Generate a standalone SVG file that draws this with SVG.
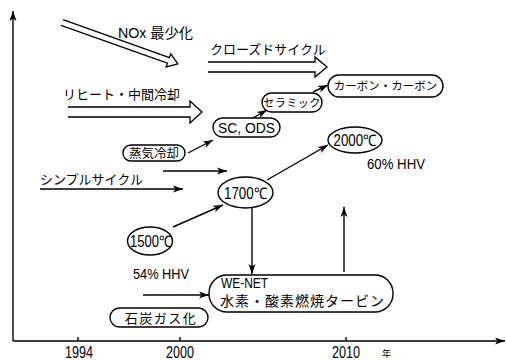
<svg xmlns="http://www.w3.org/2000/svg" width="506" height="360" viewBox="0 0 506 360">
<style>
.bg{fill:#fff}
.ln{stroke:#000;stroke-width:1.4;fill:none}
.arr{stroke:#000;stroke-width:1.4;fill:none;marker-end:url(#ah)}
.hol{stroke:#000;stroke-width:1.3;fill:#fff;stroke-linejoin:miter}
.box{stroke:#000;stroke-width:1.4;fill:#fff}
.jp{font-family:"Noto Sans CJK JP","Noto Sans CJK SC",sans-serif;fill:#000}
.lat{font-family:"Liberation Sans",sans-serif;fill:#000}
.mix{font-family:"Liberation Sans","Noto Sans CJK JP",sans-serif;fill:#000}
.c{text-anchor:middle}
</style>
<defs>
<marker id="ah" markerUnits="userSpaceOnUse" markerWidth="11" markerHeight="8" refX="10" refY="4" orient="auto">
<path d="M0,0.5 L10,4 L0,7.5 L2.5,4 Z" fill="#000"/>
</marker>
</defs>
<rect class="bg" x="0" y="0" width="506" height="360"/>

<g id="axes">
<path class="arr" d="M13,341 V11"/>
<path class="arr" d="M13,341 H505"/>
<path class="ln" d="M78,337 V341 M180,337 V341 M346,337 V341"/>
<text class="lat c" x="79" y="358" font-size="16" textLength="28" lengthAdjust="spacingAndGlyphs">1994</text>
<text class="lat c" x="180" y="358" font-size="16" textLength="28" lengthAdjust="spacingAndGlyphs">2000</text>
<text class="lat c" x="346" y="358" font-size="16" textLength="28" lengthAdjust="spacingAndGlyphs">2010</text>
<text class="jp" x="382" y="357" font-size="9">年</text>
</g>

<g id="hollow-arrows">
<path class="hol" transform="translate(62,22.5) rotate(19.6)" d="M0,-3 H113 V-7 L123,0 L113,7 V3 H0"/>
<path class="hol" d="M208,62 H315 V57 L327,67 L315,77 V72 H208"/>
<path class="hol" d="M68,107 H190 V101 L202,112 L190,123 V117 H68"/>
</g>

<g id="labels">
<text class="mix" x="118" y="37.5" font-size="14" textLength="75" lengthAdjust="spacingAndGlyphs">NOx 最少化</text>
<text class="jp" x="210" y="54" font-size="13">クローズドサイクル</text>
<text class="jp" x="63" y="99" font-size="13">リヒート・中間冷却</text>
<text class="jp" x="40" y="184" font-size="13">シンプルサイクル</text>
<text class="lat" x="367" y="169" font-size="15" textLength="58" lengthAdjust="spacingAndGlyphs">60% HHV</text>
<text class="lat" x="133" y="278.5" font-size="15" textLength="56" lengthAdjust="spacingAndGlyphs">54% HHV</text>
</g>

<g id="connectors">
<path class="arr" d="M188,153 L213,140"/>
<path class="arr" d="M253,118 L267,110"/>
<path class="arr" d="M313,92 L328,85"/>
<path class="arr" d="M163,171 H227"/>
<path class="arr" d="M40,189 H183"/>
<path class="arr" d="M173,227 L223,205"/>
<path class="arr" d="M267,180 L328,145"/>
<path class="arr" d="M252,208 V274"/>
<path class="arr" d="M344,272 V207"/>
<path class="arr" d="M143,295 H209"/>
</g>

<g id="carbon-carbon">
<rect class="box" x="328" y="75" width="115" height="22" rx="11"/>
<text class="jp c" x="385.5" y="90" font-size="11.5">カーボン・カーボン</text>
</g>
<g id="ceramic">
<rect class="box" x="262" y="93" width="60" height="19" rx="9.5"/>
<text class="jp c" x="292" y="106.5" font-size="11" letter-spacing="0.5">セラミック</text>
</g>
<g id="sc-ods">
<rect class="box" x="213" y="118" width="67" height="19" rx="9.5"/>
<text class="lat c" x="246.5" y="133" font-size="15.5" textLength="57" lengthAdjust="spacingAndGlyphs">SC, ODS</text>
</g>
<g id="steam-cooling">
<rect class="box" x="123" y="145" width="62" height="16" rx="8"/>
<text class="jp c" x="154" y="157.5" font-size="12.5">蒸気冷却</text>
</g>
<g id="t2000">
<ellipse class="box" cx="355" cy="140" rx="27" ry="13"/>
<text class="lat c" x="355" y="146" font-size="16" textLength="43" lengthAdjust="spacingAndGlyphs">2000℃</text>
</g>
<g id="t1700">
<ellipse class="box" cx="245.5" cy="192.5" rx="27.5" ry="15.5"/>
<text class="lat c" x="245.5" y="198.5" font-size="16" textLength="43" lengthAdjust="spacingAndGlyphs">1700℃</text>
</g>
<g id="t1500">
<ellipse class="box" cx="150" cy="241" rx="22.5" ry="14"/>
<text class="lat c" x="151" y="247" font-size="16" textLength="42" lengthAdjust="spacingAndGlyphs">1500℃</text>
</g>
<g id="we-net">
<rect class="box" x="209" y="275" width="184" height="37" rx="18"/>
<text class="lat" x="221" y="288" font-size="14" textLength="47" lengthAdjust="spacingAndGlyphs">WE-NET</text>
<text class="jp" x="220" y="305.5" font-size="14" letter-spacing="1">水素・酸素燃焼タービン</text>
</g>
<g id="coal-gas">
<rect class="box" x="110" y="308" width="98" height="19" rx="9.5"/>
<text class="jp c" x="161" y="322.5" font-size="13" letter-spacing="1.5">石炭ガス化</text>
</g>
</svg>
